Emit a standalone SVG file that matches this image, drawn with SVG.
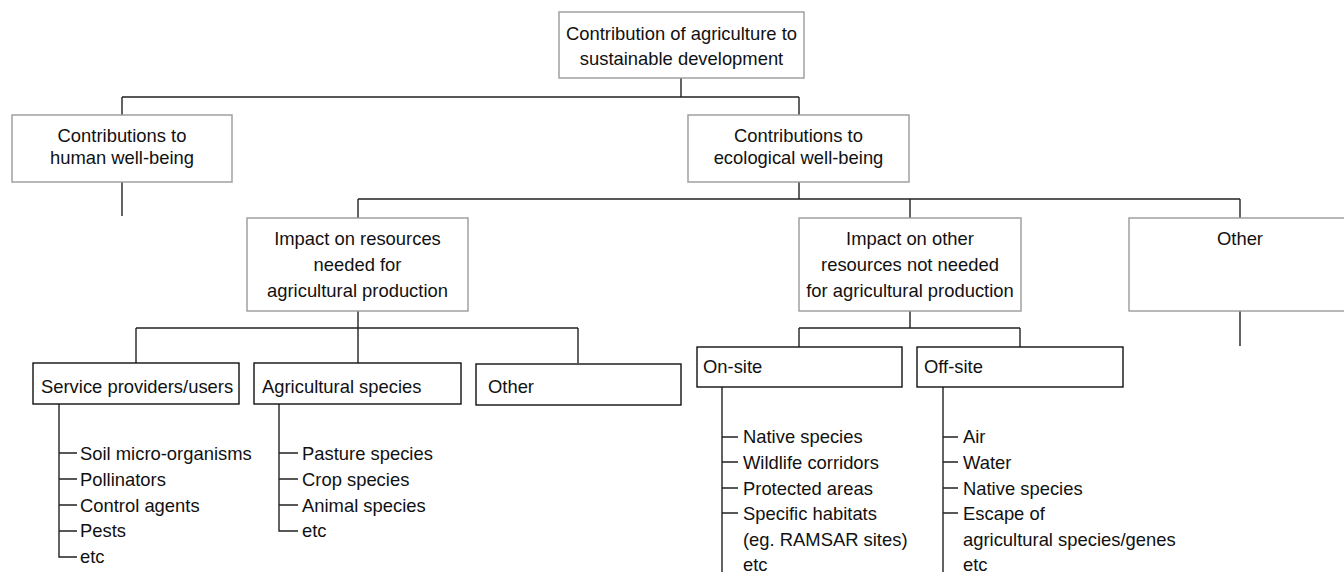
<svg xmlns="http://www.w3.org/2000/svg" width="1344" height="572" viewBox="0 0 1344 572">
<style>
text{font-family:"Liberation Sans",Arial,sans-serif;font-size:18.4px;fill:#111}
.c{text-anchor:middle}
.g{fill:#fff;stroke:#9a9a9a;stroke-width:1.4}
.b{fill:#fff;stroke:#111;stroke-width:1.4}
.ln{fill:none;stroke:#222;stroke-width:1.4}
</style>
<rect width="1344" height="572" fill="#fff"/>
<g id="connectors" class="ln">
<path d="M681,78V97M122,97H799M122,97V115M799,97V115"/>
<path d="M122,182V216"/>
<path d="M799,182V199M358,199H1240M358,199V218M910,199V218M1240,199V218"/>
<path d="M358,311V328M136,328H578M136,328V363M358,328V363M578,328V363"/>
<path d="M910,311V328M799,328H1020M799,328V347M1020,328V347"/>
<path d="M1240,311V346"/>
<path d="M59,404V557H77M59,453H77M59,479H77M59,505H77M59,531H77"/>
<path d="M279,404V531H298M279,453H298M279,479H298M279,505H298"/>
<path d="M722,387V573H738M722,437H738M722,462H738M722,488H738M722,513H738"/>
<path d="M943,387V573H958M943,437H958M943,462H958M943,488H958M943,513H958"/>
</g>
<g id="root"><rect class="g" x="559" y="12" width="245" height="66"/>
<text class="c" x="681.5" y="39.5">Contribution of agriculture to</text>
<text class="c" x="681.5" y="64.5">sustainable development</text></g>
<g id="human"><rect class="g" x="12" y="115" width="220" height="67"/>
<text class="c" x="122" y="142">Contributions to</text>
<text class="c" x="122" y="164">human well-being</text></g>
<g id="ecological"><rect class="g" x="688" y="115" width="221" height="67"/>
<text class="c" x="798.5" y="142">Contributions to</text>
<text class="c" x="798.5" y="164">ecological well-being</text></g>
<g id="impact-needed"><rect class="g" x="247" y="218" width="221" height="93"/>
<text class="c" x="357.5" y="244.5">Impact on resources</text>
<text class="c" x="357.5" y="270.5">needed for</text>
<text class="c" x="357.5" y="296.5">agricultural production</text></g>
<g id="impact-other"><rect class="g" x="799" y="218" width="222" height="93"/>
<text class="c" x="910" y="244.5">Impact on other</text>
<text class="c" x="910" y="270.5">resources not needed</text>
<text class="c" x="910" y="296.5">for agricultural production</text></g>
<g id="other-eco"><rect class="g" x="1129" y="218" width="222" height="93"/>
<text class="c" x="1240" y="245">Other</text></g>
<g id="service"><rect class="b" x="33" y="363" width="206" height="41"/>
<text x="41" y="393">Service providers/users</text>
<text x="80" y="460">Soil micro-organisms</text>
<text x="80" y="486">Pollinators</text>
<text x="80" y="511.5">Control agents</text>
<text x="80" y="537">Pests</text>
<text x="80" y="563">etc</text></g>
<g id="agri-species"><rect class="b" x="254" y="363" width="207" height="41"/>
<text x="262" y="393">Agricultural species</text>
<text x="302" y="460">Pasture species</text>
<text x="302" y="486">Crop species</text>
<text x="302" y="511.5">Animal species</text>
<text x="302" y="537">etc</text></g>
<g id="other-res"><rect class="b" x="476" y="364" width="205" height="41"/>
<text x="488" y="393">Other</text></g>
<g id="onsite"><rect class="b" x="697" y="347" width="205" height="40"/>
<text x="703" y="373">On-site</text>
<text x="743" y="443">Native species</text>
<text x="743" y="468.5">Wildlife corridors</text>
<text x="743" y="494.5">Protected areas</text>
<text x="743" y="520">Specific habitats</text>
<text x="743" y="546">(eg. RAMSAR sites)</text>
<text x="743" y="571">etc</text></g>
<g id="offsite"><rect class="b" x="917" y="347" width="206" height="40"/>
<text x="924" y="373">Off-site</text>
<text x="963" y="443">Air</text>
<text x="963" y="468.5">Water</text>
<text x="963" y="494.5">Native species</text>
<text x="963" y="520">Escape of</text>
<text x="963" y="546">agricultural species/genes</text>
<text x="963" y="571">etc</text></g>
</svg>
